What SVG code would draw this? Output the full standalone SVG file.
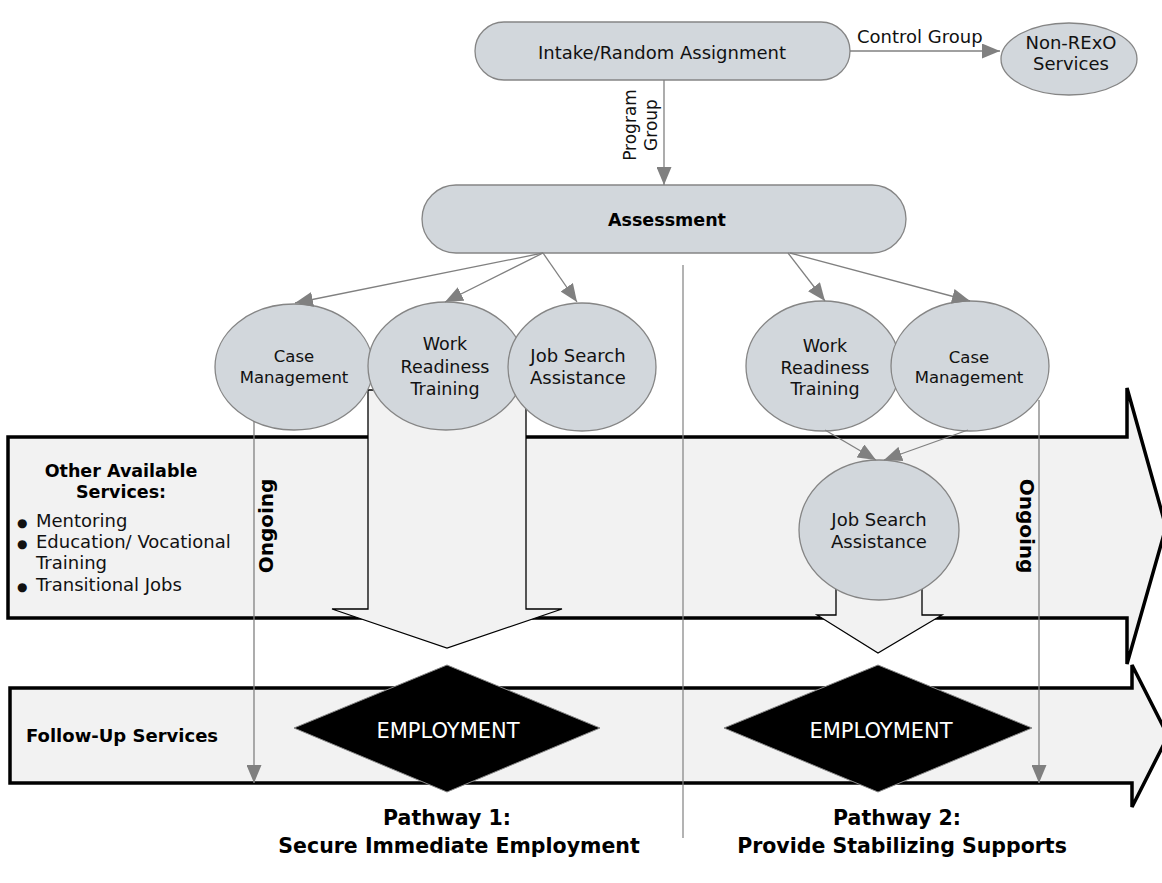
<svg xmlns="http://www.w3.org/2000/svg" width="1162" height="883" viewBox="0 0 1162 883">
<style>
text{font-family:"DejaVu Sans",Verdana,sans-serif;fill:#111;}
.node{fill:#d2d7dc;stroke:#858585;stroke-width:1.3;}
.band{fill:#f2f2f2;stroke:#000;stroke-width:3.5;stroke-linejoin:miter;}
.down{fill:#f2f2f2;stroke:#000;stroke-width:1.3;}
.dia{fill:#000;stroke:#888;stroke-width:1;}
.conn{fill:none;stroke:#808080;stroke-width:1.3;}
.b{font-weight:bold;fill:#000;}
.emp{fill:#fff;font-size:21px;}
</style>
<defs>
<marker id="ah" markerUnits="userSpaceOnUse" markerWidth="18" markerHeight="15" refX="18" refY="7.5" orient="auto" viewBox="0 0 18 15">
<path d="M0,0 L18,7.5 L0,15 z" fill="#808080"/>
</marker>
</defs>

<g id="band-follow-up">
<polygon class="band" points="10,688 1132,688 1132,665 1168,736 1132,807 1132,783 10,783"/>
<text class="b" x="26" y="742" font-size="18">Follow-Up Services</text>
</g>
<g id="band-other-services">
<polygon class="band" points="8,437 1127,437 1127,388 1166,527 1127,664 1127,618 8,618"/>
<text class="b" x="121" y="477" font-size="17.5" text-anchor="middle">Other Available</text>
<text class="b" x="121" y="498" font-size="17.5" text-anchor="middle">Services:</text>
<text font-size="18"><tspan x="17" y="527" font-size="12">●</tspan><tspan x="36" y="527">Mentoring</tspan></text>
<text font-size="18"><tspan x="17" y="548" font-size="12">●</tspan><tspan x="36" y="548">Education/ Vocational</tspan></text>
<text font-size="18"><tspan x="36" y="569">Training</tspan></text>
<text font-size="18"><tspan x="17" y="591" font-size="12">●</tspan><tspan x="36" y="591">Transitional Jobs</tspan></text>
</g>

<g id="arrow-pathway1">
<polygon class="down" points="368,390 526,390 526,609 562,609 447,648 332,609 368,609"/>
</g>
<g id="arrow-pathway2">
<polygon class="down" points="836,580 922,580 922,615 942,615 878,653 817,615 836,615"/>
</g>

<g id="employment-1">
<polygon class="dia" points="447,665 600,728 447,792 294,728"/>
<text class="emp" x="448" y="738" text-anchor="middle">EMPLOYMENT</text>
</g>
<g id="employment-2">
<polygon class="dia" points="878,665 1032,728 878,792 724,728"/>
<text class="emp" x="881" y="738" text-anchor="middle">EMPLOYMENT</text>
</g>

<g id="divider">
<line x1="683" y1="265" x2="683" y2="838" stroke="#808080" stroke-width="1.2"/>
</g>

<g id="intake">
<rect class="node" x="475" y="22" width="375" height="58" rx="29"/>
<text x="662" y="59" font-size="18" text-anchor="middle">Intake/Random Assignment</text>
</g>
<g id="non-rexo">
<ellipse class="node" cx="1069" cy="59" rx="68" ry="36"/>
<text x="1071" y="49" font-size="18" text-anchor="middle">Non-RExO</text>
<text x="1071" y="70" font-size="18" text-anchor="middle">Services</text>
</g>
<g id="assessment">
<rect class="node" x="422" y="185" width="484" height="68" rx="34"/>
<text class="b" x="667" y="226" font-size="17.5" text-anchor="middle">Assessment</text>
</g>

<g id="case-management-1">
<ellipse class="node" cx="294" cy="367" rx="79" ry="63"/>
<text x="294" y="362" font-size="16.5" text-anchor="middle">Case</text>
<text x="294" y="383" font-size="16.5" text-anchor="middle">Management</text>
</g>
<g id="work-readiness-1">
<ellipse class="node" cx="446" cy="366" rx="78" ry="64"/>
<text x="445" y="350" font-size="17.5" text-anchor="middle">Work</text>
<text x="445" y="373" font-size="17.5" text-anchor="middle">Readiness</text>
<text x="445" y="395" font-size="17.5" text-anchor="middle">Training</text>
</g>
<g id="job-search-1">
<ellipse class="node" cx="582" cy="367" rx="74" ry="64"/>
<text x="578" y="362" font-size="18" text-anchor="middle">Job Search</text>
<text x="578" y="384" font-size="18" text-anchor="middle">Assistance</text>
</g>

<g id="work-readiness-2">
<ellipse class="node" cx="823" cy="366" rx="77" ry="65"/>
<text x="825" y="352" font-size="17.5" text-anchor="middle">Work</text>
<text x="825" y="374" font-size="17.5" text-anchor="middle">Readiness</text>
<text x="825" y="395" font-size="17.5" text-anchor="middle">Training</text>
</g>
<g id="case-management-2">
<ellipse class="node" cx="970" cy="366" rx="79" ry="65"/>
<text x="969" y="363" font-size="16.5" text-anchor="middle">Case</text>
<text x="969" y="383" font-size="16.5" text-anchor="middle">Management</text>
</g>
<g id="job-search-2">
<ellipse class="node" cx="879" cy="530" rx="80" ry="70"/>
<text x="879" y="526" font-size="18" text-anchor="middle">Job Search</text>
<text x="879" y="548" font-size="18" text-anchor="middle">Assistance</text>
</g>

<g id="connectors">
<line class="conn" x1="850" y1="51" x2="1000" y2="51" marker-end="url(#ah)"/>
<line class="conn" x1="664" y1="80" x2="664" y2="185" marker-end="url(#ah)"/>
<line class="conn" x1="543" y1="253" x2="295" y2="303" marker-end="url(#ah)"/>
<line class="conn" x1="543" y1="253" x2="445" y2="302" marker-end="url(#ah)"/>
<line class="conn" x1="543" y1="253" x2="577" y2="302" marker-end="url(#ah)"/>
<line class="conn" x1="788" y1="253" x2="825" y2="301" marker-end="url(#ah)"/>
<line class="conn" x1="790" y1="253" x2="970" y2="301" marker-end="url(#ah)"/>
<line class="conn" x1="825" y1="430" x2="876" y2="460" marker-end="url(#ah)"/>
<line class="conn" x1="968" y1="430" x2="884" y2="460" marker-end="url(#ah)"/>
<line class="conn" x1="254" y1="421" x2="254" y2="783" marker-end="url(#ah)"/>
<line class="conn" x1="1039" y1="400" x2="1039" y2="783" marker-end="url(#ah)"/>
</g>

<g id="labels">
<text x="857" y="43" font-size="18">Control Group</text>
<text transform="translate(636,125) rotate(-90)" font-size="17" text-anchor="middle">Program</text>
<text transform="translate(657,125) rotate(-90)" font-size="17" text-anchor="middle">Group</text>
<text class="b" transform="translate(273,526) rotate(-90)" font-size="20" text-anchor="middle">Ongoing</text>
<text class="b" transform="translate(1020,526) rotate(90)" font-size="20" text-anchor="middle">Ongoing</text>
<text class="b" x="447" y="825" font-size="20.5" text-anchor="middle">Pathway 1:</text>
<text class="b" x="459" y="853" font-size="20.5" text-anchor="middle">Secure Immediate Employment</text>
<text class="b" x="897" y="825" font-size="20.5" text-anchor="middle">Pathway 2:</text>
<text class="b" x="902" y="853" font-size="20.5" text-anchor="middle">Provide Stabilizing Supports</text>
</g>
</svg>
